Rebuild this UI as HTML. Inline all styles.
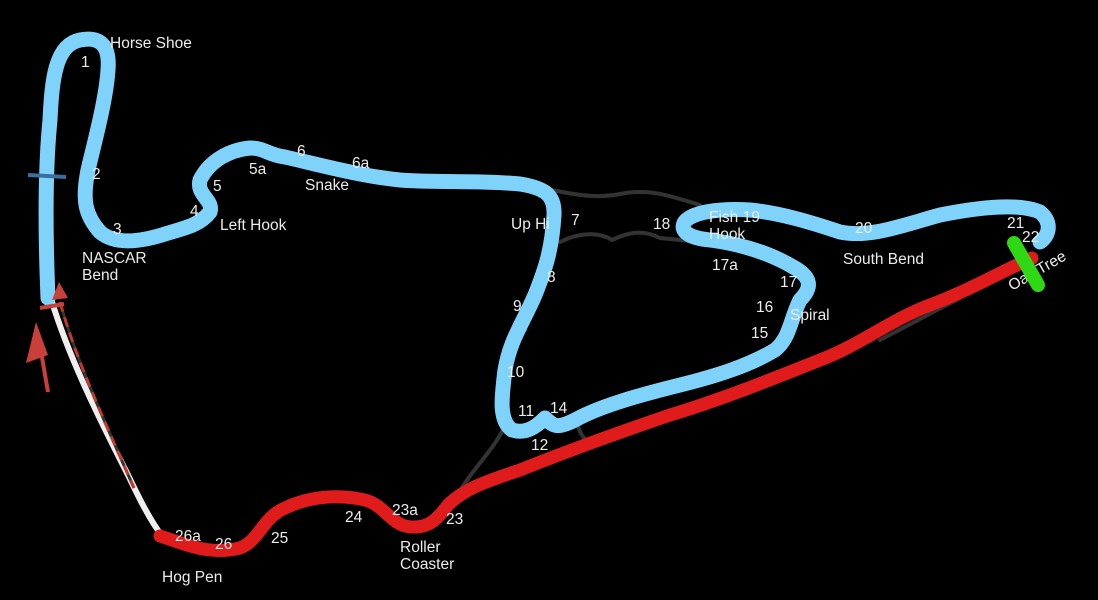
<!DOCTYPE html>
<html><head><meta charset="utf-8"><style>
html,body{margin:0;padding:0;background:#000;width:1098px;height:600px;overflow:hidden}
svg text{font-family:"Liberation Sans",sans-serif;font-size:15.5px;fill:#ececec}
</style></head><body>
<svg width="1098" height="600" viewBox="0 0 1098 600">
<rect width="1098" height="600" fill="#000"/>
<g fill="none" stroke="#333" stroke-width="4" stroke-linecap="round">
<path d="M552 190 C580 196 600 198 620 194 C650 188 670 196 700 205"/>
<path d="M560 242 C580 232 600 232 612 240 C625 234 640 228 660 238 L700 242"/>
<path d="M540 280 C525 300 525 320 525 330"/>
<path d="M505 425 C495 450 470 470 455 500"/>
<path d="M578 425 C580 435 585 440 592 444"/>
<path d="M880 340 L960 298"/>
</g>
<!-- white pit lane -->
<path d="M52 302 C70 360 100 420 128 475 C140 500 150 520 162 536" fill="none" stroke="#eee" stroke-width="6"/>
<path d="M60 302 C76 360 104 420 134 488" fill="none" stroke="#333" stroke-width="3"/>
<path d="M60 302 C76 360 104 420 134 488" fill="none" stroke="#c0392b" stroke-width="3" stroke-dasharray="10 6"/>
<!-- blue track -->
<path d="M48 298 C46 250 44 180 50 120 C52 80 55 45 80 40 C100 36 110 45 108 70 C106 100 95 140 88 170 C82 200 85 215 100 232 C115 245 140 242 165 234 C185 228 200 225 210 212 C214 200 196 195 200 180 C210 160 230 150 250 148 C265 148 268 155 285 157 C320 165 360 176 400 180 C440 183 480 180 520 184 C545 188 555 195 554 215 C552 250 545 270 535 295 C522 325 510 340 505 370 C502 395 498 420 512 430 C525 434 535 428 545 418 C553 425 555 430 575 420 C600 406 640 395 680 385 C720 375 750 365 775 350 C790 338 790 320 800 300 C812 288 812 278 795 268 C770 253 740 244 710 240 C690 238 680 232 684 223 C690 212 720 208 750 210 C780 213 810 222 840 232 C870 238 900 226 940 215 C980 207 1020 203 1040 212 C1052 222 1050 235 1040 242" fill="none" stroke="#7fd3fb" stroke-width="15" stroke-linecap="round" stroke-linejoin="round"/>
<!-- red track -->
<path d="M1032 258 C1000 272 970 290 930 305 C890 320 860 345 820 360 C770 380 720 400 670 415 C620 432 570 450 520 470 C490 480 465 488 448 505 C440 515 432 528 412 527 C392 527 385 505 365 500 C340 494 310 496 285 508 C262 518 260 540 240 548 C215 554 195 548 178 542 L160 536" fill="none" stroke="#e01b1b" stroke-width="13" stroke-linecap="round" stroke-linejoin="round"/>
<!-- blue tick -->
<line x1="28" y1="175" x2="66" y2="177" stroke="#3a6fa0" stroke-width="4"/>
<!-- red arrows -->
<line x1="48" y1="392" x2="39" y2="340" stroke="#c9403a" stroke-width="4"/>
<polygon points="36,322 26,363 48,355" fill="#c9403a"/>
<polygon points="59,282 52,300 68,298" fill="#c9403a"/>
<line x1="40" y1="308" x2="64" y2="304" stroke="#c9403a" stroke-width="4"/>
<g>
<text x="110" y="48">Horse Shoe</text>
<text x="81" y="67">1</text>
<text x="92" y="179">2</text>
<text x="113" y="234">3</text>
<text x="82" y="263">NASCAR</text>
<text x="82" y="280">Bend</text>
<text x="190" y="216">4</text>
<text x="213" y="191">5</text>
<text x="249" y="174">5a</text>
<text x="297" y="156">6</text>
<text x="352" y="168">6a</text>
<text x="305" y="190">Snake</text>
<text x="220" y="230">Left Hook</text>
<text x="511" y="229">Up Hi</text>
<text x="571" y="225">7</text>
<text x="547" y="282">8</text>
<text x="513" y="311">9</text>
<text x="507" y="377">10</text>
<text x="518" y="416">11</text>
<text x="550" y="413">14</text>
<text x="531" y="450">12</text>
<text x="653" y="229">18</text>
<text x="709" y="222">Fish 19</text>
<text x="709" y="239">Hook</text>
<text x="712" y="270">17a</text>
<text x="780" y="287">17</text>
<text x="756" y="312">16</text>
<text x="790" y="320">Spiral</text>
<text x="751" y="338">15</text>
<text x="855" y="233">20</text>
<text x="843" y="264">South Bend</text>
<text x="1007" y="228">21</text>
<text x="1022" y="242">22</text>
<text transform="translate(1012 291) rotate(-30)">Oak Tree</text>
<text x="175" y="541">26a</text>
<text x="215" y="549">26</text>
<text x="271" y="543">25</text>
<text x="345" y="522">24</text>
<text x="392" y="515">23a</text>
<text x="446" y="524">23</text>
<text x="400" y="552">Roller</text>
<text x="400" y="569">Coaster</text>
<text x="162" y="582">Hog Pen</text>
</g>
<!-- green -->
<line x1="1014" y1="243" x2="1038" y2="285" stroke="#2ed814" stroke-width="14" stroke-linecap="round"/>
</svg>
</body></html>
